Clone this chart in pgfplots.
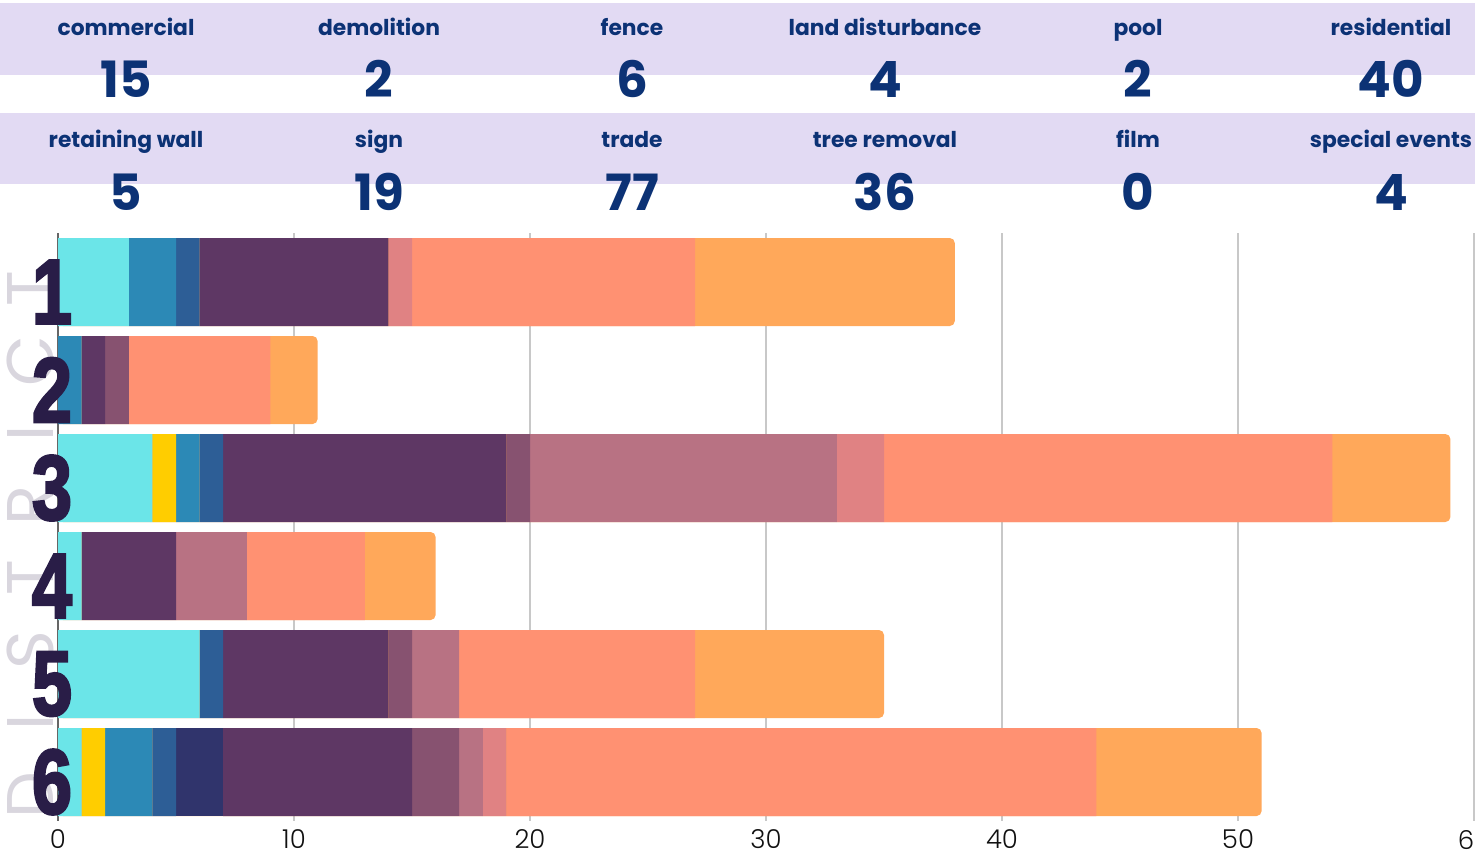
\documentclass[border=0pt]{standalone}
\usepackage{fontspec}
\usepackage{graphicx}
\usepackage{pgfplots}
\usepackage{pgfplotstable}
\pgfplotsset{compat=1.18}
\newfontfamily\pop{Poppins}
\newfontfamily\popl{Poppins}[UprightFont=* Light]
\newfontfamily\digfont{Liberation Sans}[FakeBold=3]
\definecolor{cCom}{HTML}{6BE5E8}
\definecolor{cDem}{HTML}{FFCD00}
\definecolor{cFen}{HTML}{2C89B6}
\definecolor{cFilm}{HTML}{999999}
\definecolor{cLand}{HTML}{2D5E96}
\definecolor{cPool}{HTML}{30346C}
\definecolor{cRes}{HTML}{5E3764}
\definecolor{cRet}{HTML}{875270}
\definecolor{cSign}{HTML}{B87283}
\definecolor{cSpec}{HTML}{E08283}
\definecolor{cTrade}{HTML}{FF9172}
\definecolor{cTree}{HTML}{FFA85A}
\definecolor{digc}{HTML}{291D47}
\definecolor{lav}{HTML}{E2DAF3}
\definecolor{hdr}{HTML}{0C3275}
\definecolor{distc}{HTML}{D9D6DE}
\definecolor{gridc}{HTML}{C8C8C8}
\definecolor{axc}{HTML}{666666}
\definecolor{tickc}{HTML}{111111}
\newcommand\dig[1]{\scalebox{0.8}[1.02]{\digfont\bfseries\fontsize{45}{45}\selectfont #1}}
\pgfplotstableread{
d com dem fen film land pool res ret sign spec trade tree
1 3 0 2 0 1 0 8 0 0 1 12 11
2 0 0 1 0 0 0 1 1 0 0 6 2
3 4 1 1 0 1 0 12 1 13 2 19 5
4 1 0 0 0 0 0 4 0 3 0 5 3
5 6 0 0 0 1 0 7 1 2 0 10 8
6 1 1 2 0 1 2 8 2 1 1 25 7
}\data
\pgfplotsset{common/.style={
  at={(29pt,16pt)}, anchor=south west,
  scale only axis, width=708pt, height=294pt,
  bar width=44pt,
  xmin=0, xmax=60, ymin=0.5, ymax=6.5, y dir=reverse,
  xtick={0,10,...,60}, ytick={1,...,6},
  major tick length=0,
  axis line style={draw=none},
}}
\begin{document}
\begin{tikzpicture}
\useasboundingbox (0,0) rectangle (737.5pt,426.5pt);
% header bands
\fill[lav] (0,389pt) rectangle (737.5pt,425pt);
\fill[lav] (0,334.5pt) rectangle (737.5pt,370pt);
\foreach \lab/\num [count=\i from 0] in {commercial/15,demolition/2,fence/6,land disturbance/4,pool/2,residential/40}{
  \pgfmathsetmacro\xx{(126+253*\i)*0.5}
  \node[anchor=base,inner sep=0,text=hdr,font=\pop\bfseries\fontsize{10.9}{11}\selectfont] at (\xx pt,408.5pt) {\lab};
  \node[anchor=base,inner sep=0,text=hdr,font=\pop\bfseries\fontsize{25}{25}\selectfont] at (\xx pt,377.5pt) {\num};
}
\foreach \lab/\num [count=\i from 0] in {retaining wall/5,sign/19,trade/77,tree removal/36,film/0,special events/4}{
  \pgfmathsetmacro\xx{(126+253*\i)*0.5}
  \node[anchor=base,inner sep=0,text=hdr,font=\pop\bfseries\fontsize{10.9}{11}\selectfont] at (\xx pt,352.5pt) {\lab};
  \node[anchor=base,inner sep=0,text=hdr,font=\pop\bfseries\fontsize{25}{25}\selectfont] at (\xx pt,321pt) {\num};
}
% DISTRICT
\foreach \L [count=\k from 0] in {D,I,S,T,R,I,C,T}{
  \pgfmathsetmacro\yy{(853-795+72.4*\k)*0.5}
  \node[rotate=90,inner sep=0,text=distc,font=\pop\fontsize{33}{33}\selectfont] at (15pt,\yy pt) {\L};
}
% back axis: grid and the rounded end segment (tree removal) under the stack
\begin{axis}[common, xbar,
  xticklabels={}, yticklabels={},
  xmajorgrids,
  major grid style={draw=gridc, line width=1pt},
  extra x ticks={0}, extra x tick labels={},
  extra x tick style={grid=major, major grid style={draw=axc, line width=1pt}},
]
\addplot[fill=cTree, draw=none, rounded corners=2.5pt] table[
  x expr=\thisrow{com}+\thisrow{dem}+\thisrow{fen}+\thisrow{film}+\thisrow{land}+\thisrow{pool}+\thisrow{res}+\thisrow{ret}+\thisrow{sign}+\thisrow{spec}+\thisrow{trade}+\thisrow{tree},
  y=d] {\data};
\end{axis}
% front axis: stacked segments
\begin{axis}[common, xbar stacked, axis on top,
  yticklabels={\dig{1},\dig{2},\dig{3},\dig{4},\dig{5},\dig{6}},
  /pgf/number format/assume math mode=true,
  xticklabel style={font=\popl\fontsize{13}{13}\selectfont, text=tickc, inner sep=0pt, yshift=-4.3pt},
  yticklabel style={anchor=center, xshift=-3pt, yshift=-5pt, inner sep=0, text=digc},
]
\addplot[fill=cCom, draw=none] table[x=com, y=d] {\data};
\addplot[fill=cDem, draw=none] table[x=dem, y=d] {\data};
\addplot[fill=cFen, draw=none] table[x=fen, y=d] {\data};
\addplot[fill=cFilm, draw=none] table[x=film, y=d] {\data};
\addplot[fill=cLand, draw=none] table[x=land, y=d] {\data};
\addplot[fill=cPool, draw=none] table[x=pool, y=d] {\data};
\addplot[fill=cRes, draw=none] table[x=res, y=d] {\data};
\addplot[fill=cRet, draw=none] table[x=ret, y=d] {\data};
\addplot[fill=cSign, draw=none] table[x=sign, y=d] {\data};
\addplot[fill=cSpec, draw=none] table[x=spec, y=d] {\data};
\addplot[fill=cTrade, draw=none] table[x=trade, y=d] {\data};
\end{axis}
\end{tikzpicture}
\end{document}
